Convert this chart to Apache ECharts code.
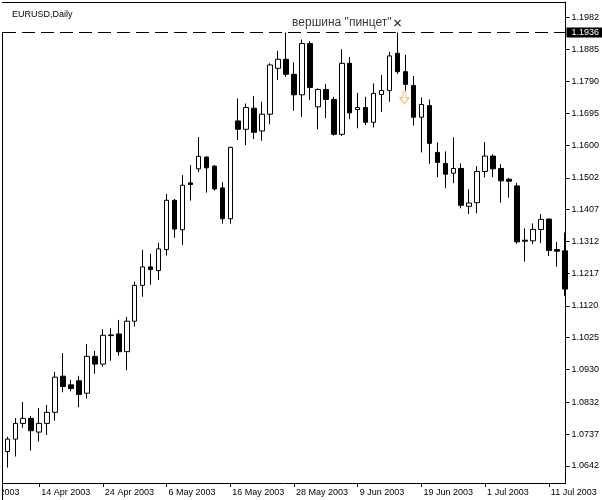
<!DOCTYPE html>
<html><head><meta charset="utf-8">
<script src="https://cdn.jsdelivr.net/npm/echarts@6/dist/echarts.min.js"></script>
<style>html,body{margin:0;padding:0;background:#fff}#c{width:602px;height:500px}</style>
</head><body><div id="c"></div>
<script>
const symbolName = "EURUSD,Daily";
const dates = [
"8 Apr 2003","9 Apr 2003","10 Apr 2003","11 Apr 2003","14 Apr 2003","15 Apr 2003","16 Apr 2003","17 Apr 2003","18 Apr 2003","21 Apr 2003",
"22 Apr 2003","23 Apr 2003","24 Apr 2003","25 Apr 2003","28 Apr 2003","29 Apr 2003","30 Apr 2003","1 May 2003","2 May 2003","5 May 2003",
"6 May 2003","7 May 2003","8 May 2003","9 May 2003","12 May 2003","13 May 2003","14 May 2003","15 May 2003","16 May 2003","19 May 2003",
"20 May 2003","21 May 2003","22 May 2003","23 May 2003","26 May 2003","27 May 2003","28 May 2003","29 May 2003","30 May 2003","2 Jun 2003",
"3 Jun 2003","4 Jun 2003","5 Jun 2003","6 Jun 2003","9 Jun 2003","10 Jun 2003","11 Jun 2003","12 Jun 2003","13 Jun 2003","16 Jun 2003",
"17 Jun 2003","18 Jun 2003","19 Jun 2003","20 Jun 2003","23 Jun 2003","24 Jun 2003","25 Jun 2003","26 Jun 2003","27 Jun 2003","30 Jun 2003",
"1 Jul 2003","2 Jul 2003","3 Jul 2003","4 Jul 2003","7 Jul 2003","8 Jul 2003","9 Jul 2003","10 Jul 2003","11 Jul 2003","14 Jul 2003",
"15 Jul 2003"];
const open = [1.0685,1.0722,1.0769,1.0784,1.0743,1.0769,1.0802,1.0910,1.0884,1.0896,
1.0859,1.0969,1.0946,1.1033,1.1036,1.0983,1.1074,1.1181,1.1236,1.1225,
1.1288,1.1435,1.1347,1.1487,1.1529,1.1564,1.1537,1.1472,1.1380,1.1672,
1.1647,1.1710,1.1642,1.1692,1.1829,1.1856,1.1811,1.1750,1.1903,1.1714,
1.1766,1.1736,1.1632,1.1844,1.1706,1.1712,1.1668,1.1751,1.1763,1.1874,
1.1819,1.1778,1.1683,1.1718,1.1578,1.1545,1.1516,1.1530,1.1417,1.1428,
1.1521,1.1567,1.1530,1.1498,1.1478,1.1316,1.1314,1.1348,1.1379,1.1288,
1.1284];
const high = [1.0729,1.0785,1.0833,1.0791,1.0815,1.0824,1.0923,1.0979,1.0899,1.0911,
1.1006,1.0985,1.1050,1.1053,1.1078,1.1087,1.1192,1.1287,1.1275,1.1308,
1.1454,1.1439,1.1510,1.1540,1.1624,1.1566,1.1540,1.1489,1.1595,1.1739,
1.1724,1.1746,1.1729,1.1844,1.1881,1.1936,1.1847,1.1915,1.1910,1.1769,
1.1782,1.1744,1.1886,1.1863,1.1756,1.1744,1.1784,1.1809,1.1878,1.1936,
1.1869,1.1806,1.1742,1.1736,1.1608,1.1581,1.1623,1.1545,1.1468,1.1537,
1.1609,1.1572,1.1543,1.1502,1.1487,1.1351,1.1366,1.1394,1.1381,1.1311,
1.1339];
const low = [1.0637,1.0670,1.0756,1.0688,1.0715,1.0734,1.0777,1.0862,1.0865,1.0817,
1.0843,1.0917,1.0938,1.0956,1.0971,1.0928,1.1058,1.1147,1.1183,1.1197,
1.1270,1.1323,1.1302,1.1434,1.1519,1.1458,1.1464,1.1365,1.1365,1.1615,
1.1600,1.1618,1.1613,1.1662,1.1794,1.1804,1.1702,1.1684,1.1734,1.1647,
1.1680,1.1628,1.1627,1.1677,1.1650,1.1660,1.1652,1.1699,1.1729,1.1812,
1.1762,1.1658,1.1578,1.1544,1.1504,1.1471,1.1486,1.1411,1.1394,1.1396,
1.1503,1.1504,1.1428,1.1443,1.1305,1.1252,1.1304,1.1307,1.1269,1.1237,
1.1150];
const close = [1.0722,1.0769,1.0784,1.0747,1.0769,1.0802,1.0907,1.0879,1.0873,1.0855,
1.0969,1.0946,1.1032,1.1031,1.0983,1.1074,1.1181,1.1236,1.1228,1.1290,
1.1435,1.1349,1.1480,1.1482,1.1566,1.1532,1.1469,1.1380,1.1593,1.1647,
1.1712,1.1638,1.1692,1.1839,1.1856,1.1811,1.1750,1.1903,1.1772,1.1766,
1.1736,1.1632,1.1844,1.1696,1.1712,1.1668,1.1754,1.1763,1.1866,1.1819,
1.1781,1.1683,1.1721,1.1605,1.1548,1.1513,1.1530,1.1420,1.1427,1.1521,
1.1567,1.1529,1.1493,1.1492,1.1311,1.1313,1.1348,1.1378,1.1285,1.1283,
1.1170];
const yTickLabels = ["1.0642","1.0737","1.0832","1.0930","1.1025","1.1120","1.1217","1.1312","1.1407","1.1502","1.1600","1.1695","1.1790","1.1885","1.1982"];
const xTickLabels = ["14 Apr 2003","24 Apr 2003","6 May 2003","16 May 2003","28 May 2003","9 Jun 2003","19 Jun 2003","1 Jul 2003","11 Jul 2003"];
const leadingDateLabel = "2 Apr 2003";
const pincerLevel = 1.1936;
const annotationText = 'вершина "пинцет"';
const annotationDate = "5 Jun 2003";
const annotationPrice = 1.1964;
const crossDate = "16 Jun 2003";
const arrowDate = "17 Jun 2003";

const FONT = "'Liberation Sans', Arial, sans-serif";
const yMin = 1.0591, yMax = 1.2027;
const candles = dates.map((d, i) => [i, open[i], close[i], low[i], high[i]]);
const yTickValues = yTickLabels.map(Number);
const xTickIdx = xTickLabels.map(s => dates.indexOf(s));
const aIdx = dates.indexOf(annotationDate);
const cIdx = dates.indexOf(crossDate);
const arIdx = dates.indexOf(arrowDate);

const chart = echarts.init(document.getElementById('c'), null, {renderer: 'canvas'});
chart.setOption({
  animation: false,
  backgroundColor: '#fff',
  title: {text: symbolName, left: 12, top: 10, padding: 0,
    textStyle: {fontSize: 9, fontWeight: 'normal', fontFamily: FONT, color: '#000'}},
  grid: {left: 3, top: 2, right: 34, bottom: 17, show: false, containLabel: false},
  xAxis: {type: 'value', min: -0.54, max: 70.09,
    axisLine: {show: true, onZero: false, lineStyle: {color: '#000', width: 1}},
    axisTick: {show: true, length: 4, customValues: xTickIdx, lineStyle: {color: '#000'}},
    axisLabel: {customValues: xTickIdx, formatter: v => dates[Math.round(v)] || '', align: 'left', padding: [0,0,0,2],
      margin: 5, fontSize: 9, fontFamily: FONT, color: '#000', showMinLabel: true, showMaxLabel: true},
    splitLine: {show: false}},
  yAxis: {type: 'value', position: 'right', min: yMin, max: yMax,
    axisLine: {show: true, onZero: false, lineStyle: {color: '#000', width: 1}},
    axisTick: {show: true, length: 4, customValues: yTickValues, lineStyle: {color: '#000'}},
    axisLabel: {customValues: yTickValues, formatter: v => v.toFixed(4), margin: 6,
      fontSize: 9, fontFamily: FONT, color: '#000'},
    splitLine: {show: false}},
  series: [
    {type: 'candlestick', data: candles, encode: {x: 0, y: [1, 2, 3, 4]}, barWidth: 5, clip: true,
      itemStyle: {color: '#fff', color0: '#000', borderColor: '#000', borderColor0: '#000', borderWidth: 1}},
    {type: 'scatter', clip: false, symbolSize: 0, data: [[aIdx, annotationPrice]],
      label: {show: true, position: 'inside', formatter: annotationText, fontSize: 12, fontFamily: FONT, color: '#000'},
      markLine: {symbol: 'none', silent: true, animation: false, precision: 4,
        lineStyle: {type: [13, 6], color: '#000', width: 1},
        data: [{yAxis: pincerLevel}],
        label: {show: true, position: 'end', distance: 1, formatter: () => pincerLevel.toFixed(4),
          color: '#fff', backgroundColor: '#000', padding: [0, 40, 0, 5], lineHeight: 10,
          fontSize: 9, fontFamily: FONT}}},
    {type: 'scatter', clip: false, data: [[cIdx, annotationPrice]],
      symbol: 'path://M0,1 L1,0 L4,3 L7,0 L8,1 L5,4 L8,7 L7,8 L4,5 L1,8 L0,7 L3,4 Z',
      symbolSize: 7, itemStyle: {color: '#000'}},
    {type: 'scatter', clip: false, data: [[arIdx, low[arIdx]]],
      symbol: 'path://M3,0 L6,0 L6,6 L9,6 L4.5,12 L0,6 L3,6 Z', symbolSize: [9, 12], symbolOffset: [-1, 7],
      itemStyle: {color: '#fff', borderColor: '#f0a030', borderWidth: 1}}
  ]
});
const px = chart.convertToPixel({xAxisIndex: 0}, -4);
const pxLeft = chart.convertToPixel({xAxisIndex: 0}, -0.54);
const pxRight = chart.convertToPixel({xAxisIndex: 0}, 70.09);
const pyBottom = chart.convertToPixel({yAxisIndex: 0}, yMin);
const pyLevel = chart.convertToPixel({yAxisIndex: 0}, pincerLevel);
const pyTop = chart.convertToPixel({yAxisIndex: 0}, yMax);
const lx = Math.round(pxLeft) - 0.5;
chart.setOption({graphic: [
  {type: 'text', x: px, y: pyBottom + 5, z: 10,
    style: {text: leadingDateLabel, fontSize: 9, fontFamily: FONT, fill: '#000'}},
  {type: 'rect', z: 11, shape: {x: 0, y: pyBottom + 1, width: lx + 0.5, height: 500 - pyBottom}, style: {fill: '#fff'}},
  {type: 'line', z: 12, shape: {x1: lx, y1: Math.round(pyLevel), x2: lx, y2: 500}, style: {stroke: '#000', lineWidth: 1}},
  {type: 'line', z: 12, shape: {x1: lx - 0.5, y1: Math.round(pyTop) + 0.5, x2: Math.round(pxRight) + 1, y2: Math.round(pyTop) + 0.5}, style: {stroke: '#000', lineWidth: 1}}
]});
</script></body></html>
